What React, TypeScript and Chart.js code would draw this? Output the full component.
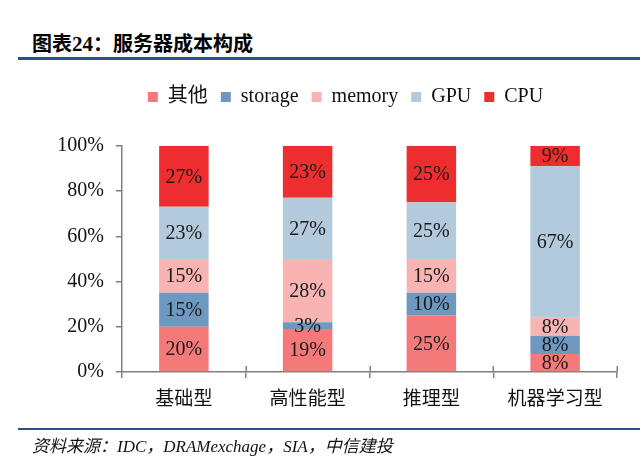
import React, { useEffect, useRef } from "react";
import { Chart, registerables } from "chart.js";

Chart.register(...registerables);

const categories = ["基础型", "高性能型", "推理型", "机器学习型"];
const seriesNames = ["其他", "storage", "memory", "GPU", "CPU"];
const otherValues = [20, 19, 25, 8];
const storageValues = [15, 3, 10, 8];
const memoryValues = [15, 28, 15, 8];
const gpuValues = [23, 27, 25, 67];
const cpuValues = [27, 23, 25, 9];
const seriesColors = ["#F47A7A", "#6E98C0", "#F8B3B3", "#B3C9DC", "#EE2E2E"];
const yMin = 0;
const yMax = 100;
const yStep = 20;
const titleHan = "图表";
const titleNum = "24";
const titleColon = "：";
const titleText = "服务器成本构成";
const sourceText = "资料来源：IDC，DRAMexchage，SIA，中信建投";

const SERIF = '"Liberation Serif", "Times New Roman", "Noto Sans CJK SC", serif';
const CJK = '"Noto Sans CJK SC", sans-serif';
const AXIS = "#808080";

const barLabelPlugin = {
  id: "barLabels",
  afterLayout(chart: any) {
    const l = chart.legend;
    if (l) {
      l.left += 9;
      l.right += 9;
    }
  },
  afterDatasetsDraw(chart: any) {
    const ctx = chart.ctx;
    ctx.save();
    ctx.font = `20px ${SERIF}`;
    ctx.fillStyle = "#1a1a1a";
    ctx.textAlign = "center";
    ctx.textBaseline = "middle";
    chart.data.datasets.forEach((ds: any, i: number) => {
      const meta = chart.getDatasetMeta(i);
      meta.data.forEach((el: any, j: number) => {
        const p = el.getProps(["x", "y", "base"], true);
        ctx.fillText(ds.data[j] + "%", p.x, (p.y + p.base) / 2 + 1);
      });
    });
    // upward half of category boundary ticks (crossing the x axis)
    const xs = chart.scales.x;
    const bottom = chart.chartArea.bottom;
    ctx.strokeStyle = AXIS;
    ctx.lineWidth = 1.5;
    for (let k = 1; k <= categories.length; k++) {
      const px = Math.round(xs.getPixelForValue(k - 0.5)) + 0.25;
      ctx.beginPath();
      ctx.moveTo(px, bottom - 6);
      ctx.lineTo(px, bottom);
      ctx.stroke();
    }
    ctx.restore();
  },
};

export default function App() {
  const ref = useRef<HTMLCanvasElement | null>(null);

  useEffect(() => {
    if (!ref.current) return;
    const seriesValues = [otherValues, storageValues, memoryValues, gpuValues, cpuValues];
    const chart = new Chart(ref.current, {
      type: "bar",
      data: {
        labels: categories,
        datasets: seriesNames.map((name, i) => ({
          label: name,
          data: seriesValues[i],
          backgroundColor: seriesColors[i],
          borderWidth: 0,
          categoryPercentage: 1,
          barPercentage: 0.4,
        })),
      },
      plugins: [barLabelPlugin],
      options: {
        responsive: false,
        animation: false,
        layout: { padding: { top: 74, left: 56, right: 23, bottom: 0 } },
        plugins: {
          tooltip: { enabled: false },
          legend: {
            position: "top",
            labels: {
              boxWidth: 10,
              boxHeight: 10,
              padding: 13,
              color: "#111",
              font: { family: SERIF, size: 20 },
            },
          },
          title: {
            display: true,
            text: " ",
            position: "top",
            weight: 100,
            padding: 0,
            font: { size: 24 },
          } as any,
        },
        scales: {
          x: {
            stacked: true,
            grid: { drawOnChartArea: false, drawTicks: true, tickLength: 6, color: AXIS, lineWidth: 1.5, offset: true },
            border: { color: AXIS, width: 1.5 },
            ticks: {
              color: "#111",
              padding: 8,
              font: { family: CJK, size: 19 },
            },
            afterFit: (s: any) => {
              s.height = 87;
            },
          },
          y: {
            stacked: true,
            min: yMin,
            max: yMax,
            grid: { drawOnChartArea: false, drawTicks: true, tickLength: 6, color: AXIS, lineWidth: 1.5 },
            border: { color: AXIS, width: 1.5 },
            ticks: {
              stepSize: yStep,
              color: "#111",
              padding: 12,
              font: { family: SERIF, size: 20 },
              callback: (v: any) => v + "%",
            },
            afterFit: (s: any) => {
              s.width = 66;
            },
          },
        },
      } as any,
    });
    return () => chart.destroy();
  }, []);

  const titleStyle: React.CSSProperties = {
    position: "absolute",
    top: 29,
    fontFamily: CJK,
    fontWeight: 700,
    fontSize: 20,
    lineHeight: "28px",
    color: "#000",
    whiteSpace: "nowrap",
  };

  return (
    <div
      style={{
        position: "fixed",
        left: 0,
        top: 0,
        width: 640,
        height: 459,
        background: "#fff",
        overflow: "hidden",
      }}
    >
      <div style={{ ...titleStyle, left: 32 }}>
        {titleHan}
        <span style={{ fontFamily: SERIF, fontSize: 21 }}>{titleNum}</span>
        {titleColon}
      </div>
      <div style={{ ...titleStyle, left: 113 }}>{titleText}</div>
      <div
        style={{
          position: "absolute",
          left: 18,
          right: 0,
          top: 57,
          height: 2.5,
          background: "#24528a",
        }}
      />
      <canvas
        ref={ref}
        width={640}
        height={459}
        style={{ position: "absolute", left: 0, top: 0, width: 640, height: 459 }}
      />
      <div
        style={{
          position: "absolute",
          left: 18,
          right: 0,
          top: 428,
          height: 1.5,
          background: "#2b5283",
        }}
      />
      <div
        style={{
          position: "absolute",
          left: 32,
          top: 436,
          fontFamily: SERIF,
          fontStyle: "italic",
          fontSize: 17,
          lineHeight: "22px",
          color: "#111",
          whiteSpace: "nowrap",
        }}
      >
        {sourceText}
      </div>
    </div>
  );
}
